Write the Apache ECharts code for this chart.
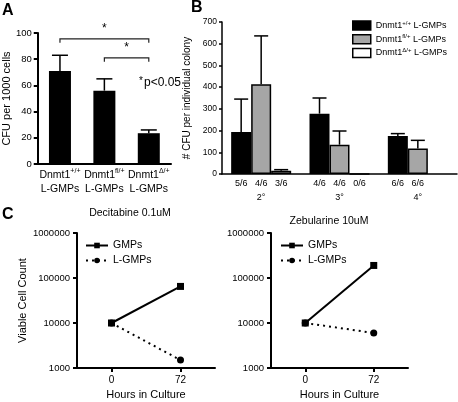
<!DOCTYPE html>
<html>
<head>
<meta charset="utf-8">
<script src="https://cdn.jsdelivr.net/npm/echarts@6/dist/echarts.min.js"></script>
<style>html,body{margin:0;padding:0;background:#fff;}#c{width:458px;height:402px;}</style>
</head>
<body>
<div id="c"></div>
<script>
// ---------- Panel A ----------
const genotypes = ['+/+', 'fl/+', 'Δ/+'];
const cfuMean = [71, 56, 23.5];
const cfuUpper = [83, 65, 26];
// ---------- Panel B ----------
const passages = ['2°', '3°', '4°'];
const wtCFU = [193, 278, 175];
const wtUpper = [345, 350, 186];
const wtFrac = ['5/6', '4/6', '6/6'];
const flCFU = [413, 135, 117];
const flUpper = [636, 198, 155];
const flFrac = ['4/6', '4/6', '6/6'];
const dCFU = [15, 0, null];
const dUpper = [20, null, null];
const dFrac = ['3/6', '0/6', ''];
// ---------- Panel C ----------
const hours = [0, 72];
const decGMP = [10000, 65000];
const decLGMP = [10000, 1500];
const zebGMP = [10000, 190000];
const zebLGMP = [10000, 6000];

const FONT = 'Liberation Sans, Arial, sans-serif';
const chart = echarts.init(document.getElementById('c'), null, {renderer: 'canvas'});

const seriesNamesB = genotypes.map(g => 'Dnmt1' + g + ' L-GMPs');

function errRender(offset, cap, fracs) {
  return function (params, api) {
    const children = [];
    const st = {stroke: '#000', lineWidth: 1.5};
    const base = api.coord([api.value(0), 0]);
    const x = base[0] + offset;
    const up = api.value(2);
    if (up != null && !isNaN(up)) {
      const p0 = api.coord([api.value(0), api.value(1)]);
      const p1 = api.coord([api.value(0), up]);
      children.push({type: 'line', shape: {x1: x, y1: p0[1], x2: x, y2: p1[1]}, style: st});
      children.push({type: 'line', shape: {x1: x - cap, y1: p1[1], x2: x + cap, y2: p1[1]}, style: st});
    }
    if (fracs && fracs[params.dataIndex]) {
      children.push({type: 'text', x: x, y: base[1] + 5,
        style: {text: fracs[params.dataIndex], font: '9px ' + FONT, fill: '#000', textAlign: 'center', textVerticalAlign: 'top'}});
    }
    return {type: 'group', children: children};
  };
}

const brackets = [[0, 2, 95.5, 92.5], [1, 2, 81, 78]];

const axisBlack = (w) => ({show: true, onZero: false, lineStyle: {color: '#000', width: w}});

const option = {
  animation: false,
  textStyle: {fontFamily: FONT},
  grid: [
    {left: 36, top: 33, width: 135, height: 131},
    {left: 222, top: 22, width: 235, height: 152},
    {left: 77, top: 233, width: 138, height: 135},
    {left: 271, top: 233, width: 137, height: 135}
  ],
  xAxis: [
    {gridIndex: 0, type: 'category', data: genotypes,
     axisLine: axisBlack(2), axisTick: {show: false},
     axisLabel: {color: '#000', margin: 4, interval: 0, hideOverlap: false,
       formatter: (v) => '{a|Dnmt1}{s|' + v + '}\n{a|L-GMPs}',
       rich: {a: {fontSize: 10.5, lineHeight: 14, color: '#000', fontFamily: FONT},
              s: {fontSize: 7, lineHeight: 10, verticalAlign: 'top', color: '#000', fontFamily: FONT}}}},
    {gridIndex: 1, type: 'category', data: passages,
     axisLine: axisBlack(1.5), axisTick: {show: false},
     axisLabel: {color: '#000', fontSize: 9, margin: 19, interval: 0}},
    {gridIndex: 2, type: 'value', min: -36, max: 108,
     axisLine: axisBlack(2), splitLine: {show: false},
     axisTick: {show: true, length: 4, lineStyle: {width: 2, color: '#000'}, customValues: hours},
     axisLabel: {color: '#000', fontSize: 10, margin: 7, customValues: hours},
     name: 'Hours in Culture', nameLocation: 'middle', nameGap: 21,
     nameTextStyle: {fontSize: 11, color: '#000'}},
    {gridIndex: 3, type: 'value', min: -36, max: 108,
     axisLine: axisBlack(2), splitLine: {show: false},
     axisTick: {show: true, length: 4, lineStyle: {width: 2, color: '#000'}, customValues: hours},
     axisLabel: {color: '#000', fontSize: 10, margin: 7, customValues: hours},
     name: 'Hours in Culture', nameLocation: 'middle', nameGap: 21,
     nameTextStyle: {fontSize: 11, color: '#000'}}
  ],
  yAxis: [
    {gridIndex: 0, type: 'value', min: 0, max: 100, interval: 20,
     axisLine: axisBlack(2), splitLine: {show: false},
     axisTick: {show: true, length: 4, lineStyle: {width: 2, color: '#000'}},
     axisLabel: {color: '#000', fontSize: 9.5, margin: 6},
     name: 'CFU per 1000 cells', nameLocation: 'middle', nameGap: 22, nameRotate: 90,
     nameTextStyle: {fontSize: 11, color: '#000'}},
    {gridIndex: 1, type: 'value', min: 0, max: 700, interval: 100,
     axisLine: axisBlack(1.5), splitLine: {show: false},
     axisTick: {show: true, length: 3, lineStyle: {width: 1.5, color: '#000'}},
     axisLabel: {color: '#000', fontSize: 8.5, margin: 5},
     name: '# CFU per individual colony', nameLocation: 'middle', nameGap: 18, nameRotate: 90,
     nameTextStyle: {fontSize: 10, color: '#000'}},
    {gridIndex: 2, type: 'log', logBase: 10, min: 1000, max: 1000000,
     axisLine: axisBlack(2), splitLine: {show: false}, minorTick: {show: false},
     axisTick: {show: true, length: 4, lineStyle: {width: 2, color: '#000'}},
     axisLabel: {color: '#000', fontSize: 9.5, margin: 7, formatter: (v) => String(Math.round(v))},
     name: 'Viable Cell Count', nameLocation: 'middle', nameGap: 49, nameRotate: 90,
     nameTextStyle: {fontSize: 11, color: '#000'}},
    {gridIndex: 3, type: 'log', logBase: 10, min: 1000, max: 1000000,
     axisLine: axisBlack(2), splitLine: {show: false}, minorTick: {show: false},
     axisTick: {show: true, length: 4, lineStyle: {width: 2, color: '#000'}},
     axisLabel: {color: '#000', fontSize: 9.5, margin: 7, formatter: (v) => String(Math.round(v))}}
  ],
  legend: [
    {data: seriesNamesB.map((n, i) => ({name: n, itemStyle: {color: ['#000', '#a6a6a6', '#fff'][i], borderColor: '#000', borderWidth: 1.5}})),
     orient: 'vertical', left: 347, top: 15, itemWidth: 18, itemHeight: 9, itemGap: 3, icon: 'rect',
     formatter: (name) => {
       const i = seriesNamesB.indexOf(name);
       return '{a|Dnmt1}{s|' + genotypes[i] + '}{a| L-GMPs}';
     },
     textStyle: {fontSize: 9, color: '#000',
       rich: {a: {fontSize: 9, lineHeight: 11, color: '#000', fontFamily: FONT},
              s: {fontSize: 6, lineHeight: 7, verticalAlign: 'top', color: '#000', fontFamily: FONT}}}},
    {data: ['GMPs', 'L-GMPs'], orient: 'vertical', left: 80, top: 235, itemWidth: 22, itemHeight: 7, itemGap: 4,
     textStyle: {fontSize: 10.5, color: '#000'}},
    {data: ['GMPs', 'L-GMPs'], orient: 'vertical', left: 275, top: 235, itemWidth: 22, itemHeight: 7, itemGap: 4,
     textStyle: {fontSize: 10.5, color: '#000'}}
  ],
  graphic: [
    {type: 'text', left: 2, top: 3, style: {text: 'A', font: 'bold 16px ' + FONT, fill: '#000'}},
    {type: 'text', left: 191, top: 0, style: {text: 'B', font: 'bold 16px ' + FONT, fill: '#000'}},
    {type: 'text', left: 2, top: 207, style: {text: 'C', font: 'bold 16px ' + FONT, fill: '#000'}},
    {type: 'text', x: 130, y: 213, style: {text: 'Decitabine 0.1uM', font: '10.5px ' + FONT, fill: '#000', textAlign: 'center', textVerticalAlign: 'middle'}},
    {type: 'text', x: 329, y: 221, style: {text: 'Zebularine 10uM', font: '10.5px ' + FONT, fill: '#000', textAlign: 'center', textVerticalAlign: 'middle'}},
    {type: 'text', x: 139, y: 76, style: {text: '*', font: '10px ' + FONT, fill: '#000', textVerticalAlign: 'top'}},
    {type: 'text', x: 144, y: 83, style: {text: 'p<0.05', font: '12px ' + FONT, fill: '#000', textVerticalAlign: 'middle'}}
  ],
  series: [
    // Panel A
    {type: 'bar', xAxisIndex: 0, yAxisIndex: 0, data: cfuMean, barWidth: 22,
     itemStyle: {color: '#000'}, z: 2},
    {type: 'custom', xAxisIndex: 0, yAxisIndex: 0, z: 3,
     data: cfuMean.map((m, i) => [i, m, cfuUpper[i]]),
     renderItem: errRender(0, 8, null)},
    {type: 'custom', xAxisIndex: 0, yAxisIndex: 0, z: 3,
     data: brackets,
     renderItem: (params, api) => {
       const a = api.coord([api.value(0), api.value(2)]);
       const b = api.coord([api.value(1), api.value(2)]);
       const t = api.coord([api.value(0), api.value(3)]);
       const st = {stroke: '#222', lineWidth: 1.2, fill: null};
       return {type: 'group', children: [
         {type: 'polyline', shape: {points: [[a[0], t[1]], [a[0], a[1]], [b[0], a[1]], [b[0], t[1]]]}, style: st},
         {type: 'text', x: (a[0] + b[0]) / 2, y: a[1] - 4,
          style: {text: '*', font: '12px ' + FONT, fill: '#000', textAlign: 'center', textVerticalAlign: 'bottom'}}
       ]};
     }},
    // Panel B
    {name: seriesNamesB[0], type: 'bar', xAxisIndex: 1, yAxisIndex: 1, data: wtCFU, barWidth: 20, barGap: '0%',
     itemStyle: {color: '#000', borderColor: '#000', borderWidth: 1.5}},
    {name: seriesNamesB[1], type: 'bar', xAxisIndex: 1, yAxisIndex: 1, data: flCFU, barWidth: 20, barGap: '0%',
     itemStyle: {color: '#a6a6a6', borderColor: '#000', borderWidth: 1.5}},
    {name: seriesNamesB[2], type: 'bar', xAxisIndex: 1, yAxisIndex: 1, data: dCFU, barWidth: 20, barGap: '0%',
     itemStyle: {color: '#fff', borderColor: '#000', borderWidth: 1.5}},
    {type: 'custom', xAxisIndex: 1, yAxisIndex: 1, z: 3,
     data: wtCFU.map((m, i) => [i, m, wtUpper[i]]), renderItem: errRender(-20, 7, wtFrac)},
    {type: 'custom', xAxisIndex: 1, yAxisIndex: 1, z: 3,
     data: flCFU.map((m, i) => [i, m, flUpper[i]]), renderItem: errRender(0, 7, flFrac)},
    {type: 'custom', xAxisIndex: 1, yAxisIndex: 1, z: 3,
     data: dCFU.map((m, i) => [i, m == null ? 0 : m, dUpper[i]]), renderItem: errRender(20, 7, dFrac)},
    // Panel C left
    {name: 'GMPs', type: 'line', xAxisIndex: 2, yAxisIndex: 2,
     data: hours.map((h, i) => [h, decGMP[i]]), symbol: 'rect', symbolSize: 7,
     lineStyle: {color: '#000', width: 2}, itemStyle: {color: '#000'}},
    {name: 'L-GMPs', type: 'line', xAxisIndex: 2, yAxisIndex: 2,
     data: hours.map((h, i) => [h, decLGMP[i]]), symbol: 'circle', symbolSize: 7,
     lineStyle: {color: '#000', width: 2, type: [2, 4]}, itemStyle: {color: '#000'}},
    // Panel C right
    {name: 'GMPs', type: 'line', xAxisIndex: 3, yAxisIndex: 3,
     data: hours.map((h, i) => [h, zebGMP[i]]), symbol: 'rect', symbolSize: 7,
     lineStyle: {color: '#000', width: 2}, itemStyle: {color: '#000'}},
    {name: 'L-GMPs', type: 'line', xAxisIndex: 3, yAxisIndex: 3,
     data: hours.map((h, i) => [h, zebLGMP[i]]), symbol: 'circle', symbolSize: 7,
     lineStyle: {color: '#000', width: 2, type: [2, 4]}, itemStyle: {color: '#000'}}
  ]
};
chart.setOption(option);
</script>
</body>
</html>
